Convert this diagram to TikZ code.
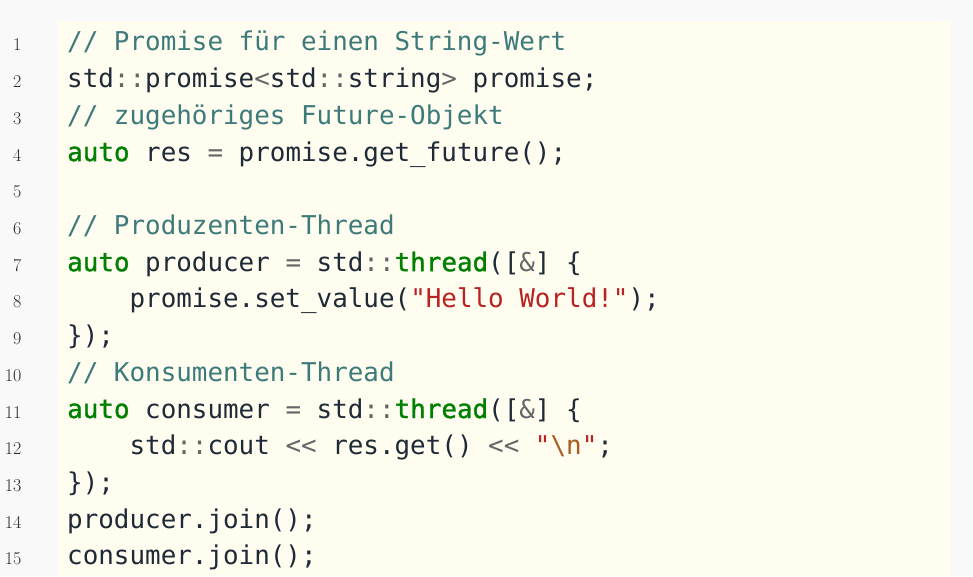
\documentclass[tikz,border=0pt]{standalone}
\usepackage{fontspec}
\newfontfamily\codefont{DejaVu Sans Mono}
\newfontfamily\kwfont[FakeBold=1.2]{DejaVu Sans Mono}
\definecolor{outerbg}{HTML}{F9F9F9}
\definecolor{codebg}{HTML}{FFFCF0}
\definecolor{codetext}{HTML}{1F2A37}
\definecolor{numc}{HTML}{2A2A2A}
\definecolor{kwc}{HTML}{008000}
\definecolor{opc}{HTML}{666666}
\definecolor{cmc}{HTML}{3D7B7B}
\definecolor{stc}{HTML}{BA2121}
\definecolor{esc}{HTML}{AA5D1F}
\newcommand\cop[1]{\textcolor{opc}{#1}}
\newcommand\ckw[1]{\textcolor{kwc}{\kwfont #1}}
\newcommand\ccm[1]{\textcolor{cmc}{#1}}
\newcommand\cst[1]{\textcolor{stc}{#1}}
\newcommand\cesc[1]{\textcolor{esc}{#1}}
\begin{document}
\begin{tikzpicture}[x=1pt,y=1pt,
  code/.style={anchor=base west, inner sep=0pt, font=\codefont\fontsize{25.9}{30}\selectfont, text=codetext},
  lnum/.style={anchor=base east, inner sep=0pt, font=\fontsize{18}{20}\selectfont, text=numc}]
\fill[outerbg] (0,0) rectangle (973,576);
\fill[codebg] (58,0) rectangle (951,555);
\useasboundingbox (0,0) rectangle (973,576);
\foreach \i in {1,...,15} \node[lnum] (n\i) at (21.5,{525-36.7*(\i-1)}) {\i};
\node[code] (l1)  at (67,{525-36.7*0})  {\ccm{// Promise für einen String-Wert}};
\node[code] (l2)  at (67,{525-36.7*1})  {std\cop{::}promise\cop{<}std\cop{::}string\cop{>} promise;};
\node[code] (l3)  at (67,{525-36.7*2})  {\ccm{// zugehöriges Future-Objekt}};
\node[code] (l4)  at (67,{525-36.7*3})  {\ckw{auto} res \cop{=} promise.get\_future();};
\node[code] (l6)  at (67,{525-36.7*5})  {\ccm{// Produzenten-Thread}};
\node[code] (l7)  at (67,{525-36.7*6})  {\ckw{auto} producer \cop{=} std\cop{::}\ckw{thread}([\cop{\&}] \{};
\node[code] (l8)  at (67,{525-36.7*7})  {\ \ \ \ promise.set\_value(\cst{"Hello World!"});};
\node[code] (l9)  at (67,{525-36.7*8})  {\});};
\node[code] (l10) at (67,{525-36.7*9})  {\ccm{// Konsumenten-Thread}};
\node[code] (l11) at (67,{525-36.7*10}) {\ckw{auto} consumer \cop{=} std\cop{::}\ckw{thread}([\cop{\&}] \{};
\node[code] (l12) at (67,{525-36.7*11}) {\ \ \ \ std\cop{::}cout \cop{<<} res.get() \cop{<<} \cst{"}\cesc{\textbackslash n}\cst{"};};
\node[code] (l13) at (67,{525-36.7*12}) {\});};
\node[code] (l14) at (67,{525-36.7*13}) {producer.join();};
\node[code] (l15) at (67,{525-36.7*14}) {consumer.join();};
\end{tikzpicture}
\end{document}
